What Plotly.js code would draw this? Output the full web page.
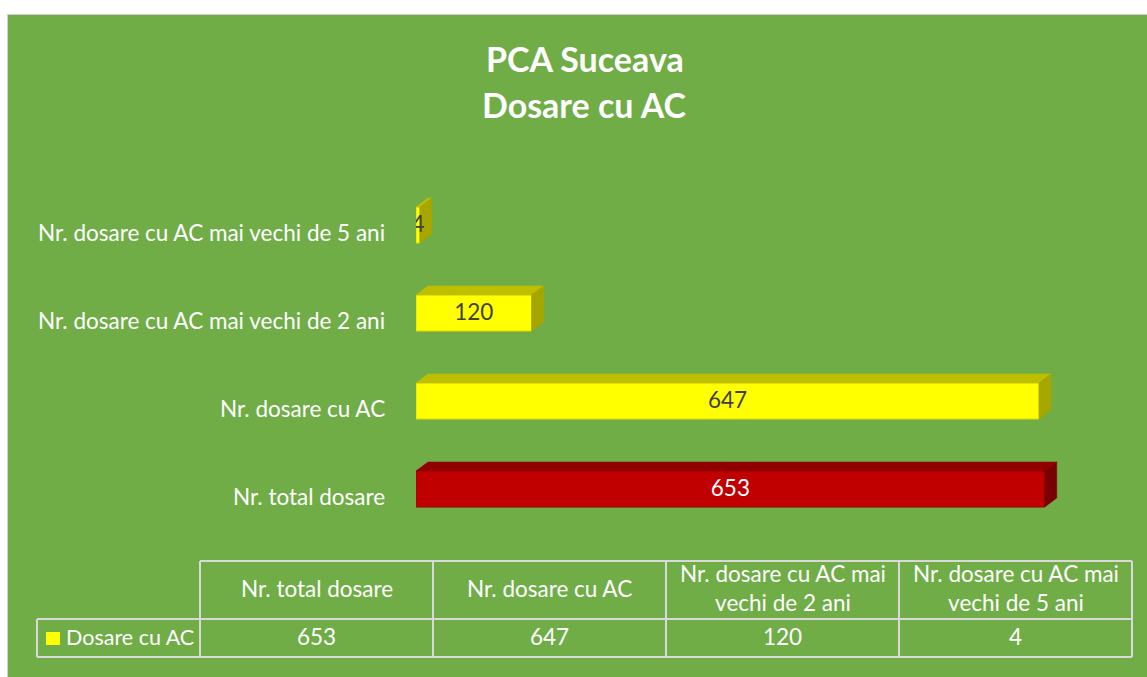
<!DOCTYPE html>
<html>
<head>
<meta charset="utf-8">
<script src="https://cdn.plot.ly/plotly-3.0.1.min.js"></script>
<style>
  html, body { margin: 0; padding: 0; background: #ffffff; width: 1147px; height: 677px; overflow: hidden; }
  #frame { position: absolute; left: 7px; top: 14px; width: 1140px; height: 663px; background: #d0d0d0; }
  #chart { position: absolute; left: 8px; top: 15px; width: 1139px; height: 662px; }
</style>
</head>
<body>
<div id="frame"></div>
<div id="chart"></div>
<script>
// ---- data ----
const categories = ["Nr. total dosare", "Nr. dosare cu AC", "Nr. dosare cu AC mai vechi de 2 ani", "Nr. dosare cu AC mai vechi de 5 ani"];
const values = [653, 647, 120, 4];
const seriesName = "Dosare cu AC";
const tableHeaders = ["Nr. total dosare", "Nr. dosare cu AC", "Nr. dosare cu AC mai<br>vechi de 2 ani", "Nr. dosare cu AC mai<br>vechi de 5 ani"];
const titleLines = ["PCA Suceava", "Dosare cu AC"];

// ---- style ----
const GREEN = "#70AD47";
const FONT = "Lato, 'Open Sans', sans-serif";
const FS = 22.5;
const W = 1139, H = 662;
const M = { l: 408, r: 57, t: 166, b: 144 };
const PW = W - M.l - M.r, PH = H - M.t - M.b;
const XMAX = 700;
const half = 0.205;          // half bar thickness (category units)
const dx = 12.5, dy = 0.102; // 3D depth offsets (data units)
const faceColors = [
  { front: "#C00000", top: "#900000", side: "#780000", edge: "#A00000" },
  { front: "#FFFF00", top: "#BFBF00", side: "#A6A600", edge: "#D9D900" }
];
function pal(i) { return i === 0 ? faceColors[0] : faceColors[1]; }
// page-pixel helpers -> paper (chart div starts at 8,15 on the page)
function px(x) { return (x - 8 - M.l) / PW; }
function py(y) { return 1 - (y - 15 - M.t) / PH; }

const pos = categories.map((_, i) => i);
const traces = [];

// 3D top & side faces
values.forEach((v, i) => {
  const c = pos[i], p = pal(i);
  traces.push({
    type: "scatter", mode: "lines", fill: "toself", hoverinfo: "skip", showlegend: false,
    x: [0, v, v + dx, dx, 0], y: [c + half, c + half, c + half + dy, c + half + dy, c + half],
    fillcolor: p.top, line: { color: p.top, width: 0.5 }
  });
  traces.push({
    type: "scatter", mode: "lines", fill: "toself", hoverinfo: "skip", showlegend: false,
    x: [v, v + dx, v + dx, v, v], y: [c - half, c - half + dy, c + half + dy, c + half, c - half],
    fillcolor: p.side, line: { color: p.side, width: 0.5 }
  });
});

// front faces
traces.push({
  type: "bar", orientation: "h", name: seriesName, showlegend: false,
  x: values, y: pos, width: half * 2,
  marker: { color: values.map((_, i) => pal(i).front), line: { color: values.map((_, i) => pal(i).edge), width: 1 } },
  hoverinfo: "x+y"
});

// data labels
traces.push({
  type: "scatter", mode: "text", showlegend: false, hoverinfo: "skip",
  x: values.map(v => v / 2), y: pos.map(p => p - 0.02), text: values.map(String),
  textposition: "middle center",
  textfont: { family: FONT, size: FS, color: values.map((_, i) => i === 0 ? "#ffffff" : "#404040") }
});

const annotations = [];
const shapes = [];

// title
titleLines.forEach((t, k) => {
  annotations.push({ xref: "paper", yref: "paper", x: px(584.5), y: py(58.5 + k * 46), text: "<b>" + t + "</b>",
    showarrow: false, xanchor: "center", yanchor: "middle", font: { family: FONT, size: 34, color: "#ffffff" } });
});

// category labels
categories.forEach((c, i) => {
  annotations.push({ xref: "paper", yref: "y", x: 0, y: pos[i], xshift: -29, yshift: -7, text: c,
    showarrow: false, xanchor: "right", yanchor: "middle", font: { family: FONT, size: FS, color: "#ffffff" } });
});

// data table
const colX = [200, 433, 666, 899, 1132];
const rowY = [561, 619, 657];
const LINE = { color: "#D9D9D9", width: 2 };
function seg(x0, y0, x1, y1) {
  shapes.push({ type: "line", xref: "paper", yref: "paper", x0: px(x0), y0: py(y0), x1: px(x1), y1: py(y1), line: LINE });
}
seg(200, rowY[0], 1132, rowY[0]);
seg(37, rowY[1], 1132, rowY[1]);
seg(37, rowY[2], 1132, rowY[2]);
seg(37, rowY[1], 37, rowY[2]);
colX.forEach(x => seg(x, rowY[0], x, rowY[2]));
tableHeaders.forEach((h, j) => {
  const cx = (colX[j] + colX[j + 1]) / 2;
  annotations.push({ xref: "paper", yref: "paper", x: px(cx), y: py((rowY[0] + rowY[1]) / 2 - 2), text: h,
    showarrow: false, xanchor: "center", yanchor: "middle", align: "center",
    font: { family: FONT, size: FS, color: "#ffffff" } });
  annotations.push({ xref: "paper", yref: "paper", x: px(cx), y: py((rowY[1] + rowY[2]) / 2 - 2), text: String(values[j]),
    showarrow: false, xanchor: "center", yanchor: "middle",
    font: { family: FONT, size: FS, color: "#ffffff" } });
});
// legend key
shapes.push({ type: "rect", xref: "paper", yref: "paper", x0: px(46), x1: px(60), y0: py(632), y1: py(645),
  fillcolor: "#FFFF00", line: { width: 0 } });
annotations.push({ xref: "paper", yref: "paper", x: px(64), y: py(637), text: seriesName,
  showarrow: false, xanchor: "left", yanchor: "middle", font: { family: FONT, size: 21.5, color: "#ffffff" } });

const layout = {
  width: W, height: H,
  margin: M,
  paper_bgcolor: GREEN, plot_bgcolor: GREEN,
  showlegend: false,
  xaxis: { range: [0, XMAX], visible: false, fixedrange: true },
  yaxis: { range: [-0.5, 3.5], visible: false, fixedrange: true },
  annotations: annotations,
  shapes: shapes,
  font: { family: FONT }
};
Plotly.newPlot("chart", traces, layout, { displayModeBar: false, staticPlot: true });
</script>
</body>
</html>
